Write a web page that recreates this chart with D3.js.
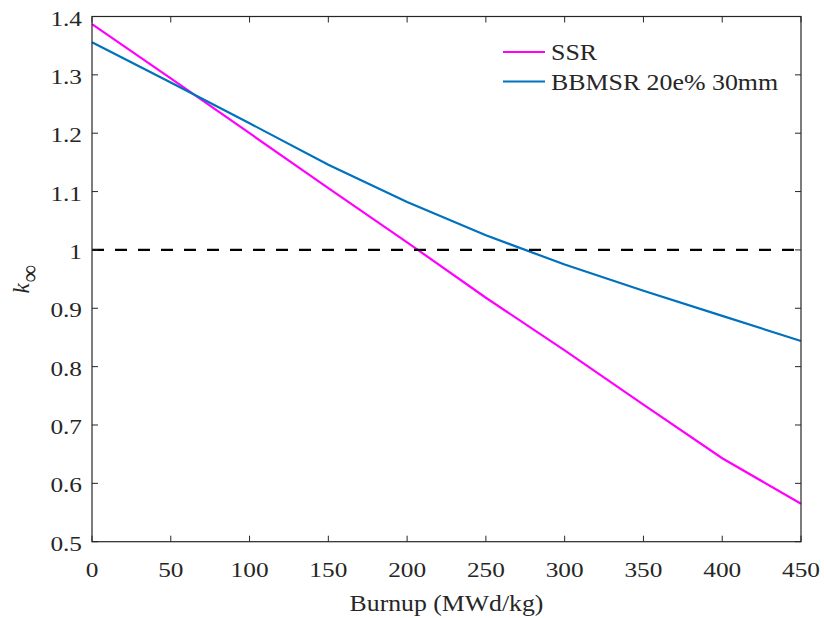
<!DOCTYPE html>
<html>
<head>
<meta charset="utf-8">
<script src="https://cdn.jsdelivr.net/npm/d3@7"></script>
<style>
  body { margin: 0; background: #fff; }
  text { font-family: "Liberation Serif", "Times New Roman", serif; fill: #262626; }
</style>
</head>
<body>
<svg id="chart"></svg>
<script>
const width = 825;
const height = 618;

// burnup values (MWd/kg)
const burnup = [0, 50, 100, 150, 200, 250, 300, 350, 400, 450];
// k-infinity
const ssr = [1.387, 1.294, 1.200, 1.106, 1.013, 0.918, 0.828, 0.735, 0.643, 0.565];
const bbmsr = [1.356, 1.287, 1.217, 1.146, 1.082, 1.025, 0.975, 0.930, 0.887, 0.844];
const seriesNames = ["SSR", "BBMSR 20e% 30mm"];
const seriesColors = ["#ff00ff", "#0072bd"];
const xTicks = [0, 50, 100, 150, 200, 250, 300, 350, 400, 450];
const yTicks = [0.5, 0.6, 0.7, 0.8, 0.9, 1, 1.1, 1.2, 1.3, 1.4];
const criticalK = 1;

const margin = { top: 16.5, right: 24, bottom: 76.3, left: 92 };

const svg = d3.select("svg#chart")
  .attr("width", width)
  .attr("height", height);

const x = d3.scaleLinear()
  .domain([0, 450])
  .range([margin.left, width - margin.right]);
const y = d3.scaleLinear()
  .domain([0.5, 1.4])
  .range([height - margin.bottom, margin.top]);

// the source picture is a little stretched sideways
const stretch = 1.15;
function label(g, tx, ty, str, anchor, size) {
  return g.append("text")
    .attr("transform", "translate(" + tx + "," + ty + ") scale(" + stretch + ",1)")
    .attr("text-anchor", anchor)
    .style("font-size", size + "px")
    .text(str);
}

// data lines
const line = d3.line()
  .x((d, i) => x(burnup[i]))
  .y(d => y(d));

const lines = svg.append("g").attr("id", "lines");
[ssr, bbmsr].forEach(function(s, i) {
  lines.append("path")
    .datum(s)
    .attr("d", line)
    .attr("fill", "none")
    .attr("stroke", seriesColors[i])
    .attr("stroke-width", 2.2);
});

// k = 1 reference line
svg.append("line")
  .attr("x1", x(0))
  .attr("x2", x(450))
  .attr("y1", y(criticalK))
  .attr("y2", y(criticalK))
  .attr("stroke", "#000")
  .attr("stroke-width", 2.2)
  .attr("stroke-dasharray", "12,11");

// frame and ticks
const axisColor = "#262626";
const tickLen = 6;
const frame = svg.append("g").attr("id", "frame");
frame.append("rect")
  .attr("x", x(0))
  .attr("y", y(1.4))
  .attr("width", x(450) - x(0))
  .attr("height", y(0.5) - y(1.4))
  .attr("fill", "none")
  .attr("stroke", axisColor)
  .attr("stroke-width", 1.2);

xTicks.forEach(function(t) {
  frame.append("line")
    .attr("x1", x(t)).attr("x2", x(t))
    .attr("y1", y(0.5)).attr("y2", y(0.5) - tickLen)
    .attr("stroke", axisColor);
  frame.append("line")
    .attr("x1", x(t)).attr("x2", x(t))
    .attr("y1", y(1.4)).attr("y2", y(1.4) + tickLen)
    .attr("stroke", axisColor);
  label(frame, x(t), y(0.5) + 35, String(t), "middle", 22);
});

yTicks.forEach(function(t) {
  frame.append("line")
    .attr("x1", x(0)).attr("x2", x(0) + tickLen)
    .attr("y1", y(t)).attr("y2", y(t))
    .attr("stroke", axisColor);
  frame.append("line")
    .attr("x1", x(450)).attr("x2", x(450) - tickLen)
    .attr("y1", y(t)).attr("y2", y(t))
    .attr("stroke", axisColor);
  label(frame, x(0) - 10, y(t) + 9, d3.format("")(t), "end", 22);
});

// axis titles
label(svg, (x(0) + x(450)) / 2, 611, "Burnup (MWd/kg)", "middle", 22.4);

let yTitle = svg.append("text")
  .attr("transform", "translate(29," + ((y(0.5) + y(1.4)) / 2) + ") rotate(-90)")
  .attr("text-anchor", "middle")
  .style("font-size", "23px");
yTitle.append("tspan").style("font-style", "italic").text("k");
yTitle.append("tspan").attr("dy", 9).attr("dx", 1).style("font-size", "25px").text("∞");

// legend
const legend = svg.append("g").attr("id", "legend");
seriesNames.forEach(function(name, i) {
  let ly = 52 + i * 29.5;
  legend.append("line")
    .attr("x1", 503).attr("x2", 545)
    .attr("y1", ly).attr("y2", ly)
    .attr("stroke", seriesColors[i])
    .attr("stroke-width", 2.2);
  label(legend, 551, ly + 8, name, "start", 22.5);
});
</script>
</body>
</html>
